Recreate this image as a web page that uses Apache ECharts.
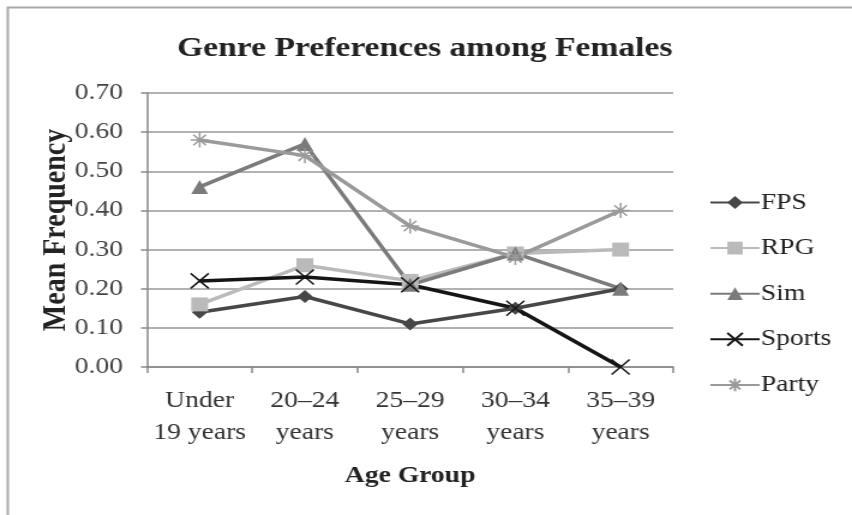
<!DOCTYPE html>
<html>
<head>
<meta charset="utf-8">
<script src="https://cdn.jsdelivr.net/npm/echarts@6/dist/echarts.min.js"></script>
<style>
  html, body { margin: 0; padding: 0; background: #fff; overflow: hidden; }
  /* the chart is laid out at 710px and widened to fill the 852px frame */
  #chart { width: 710px; height: 515px; transform: scaleX(1.2); transform-origin: 0 0; }
</style>
</head>
<body>
<div id="chart"></div>
<script>
// Age groups on the category axis
var ageGroups = ['Under\n19 years', '20\u201324\nyears', '25\u201329\nyears', '30\u201334\nyears', '35\u201339\nyears'];

// Mean frequency per genre
var fps    = [0.14, 0.18, 0.11, 0.15, 0.20];
var rpg    = [0.16, 0.26, 0.22, 0.29, 0.30];
var sim    = [0.46, 0.57, 0.21, 0.29, 0.20];
var sports = [0.22, 0.23, 0.21, 0.15, 0.00];
var party  = [0.58, 0.54, 0.36, 0.28, 0.40];

var SERIF = '"Liberation Serif", "DejaVu Serif", serif';

var crossPath = 'path://M0,0L10,10M10,0L0,10';
var starPath = 'path://M0,5L10,5M5,0L5,10M1.5,1.5L8.5,8.5M8.5,1.5L1.5,8.5';

function solidSeries(name, data, color, symbol, size) {
  return {
    name: name, type: 'line', data: data,
    symbol: symbol, symbolSize: size,
    lineStyle: { color: color, width: 3.5 },
    itemStyle: { color: color },
    z: 2
  };
}
function strokeSeries(name, data, color, symbol, size) {
  return {
    name: name, type: 'line', data: data,
    symbol: symbol, symbolSize: size,
    lineStyle: { color: color, width: 3.5 },
    itemStyle: { color: 'none', borderColor: color, borderWidth: 1.5 },
    z: 2
  };
}

var chart = echarts.init(document.getElementById('chart'));
chart.setOption({
  animation: false,
  backgroundColor: '#fff',
  graphic: [{
    type: 'rect', left: 4, top: 5,
    shape: { width: 900, height: 600 },
    style: { fill: 'none', stroke: '#a8a8a8', lineWidth: 2 },
    silent: true
  }],
  title: {
    text: 'Genre Preferences among Females',
    left: 349, top: 30, textAlign: 'center',
    textStyle: { fontFamily: SERIF, fontSize: 28, fontWeight: 'bold', color: '#222' }
  },
  grid: { left: 122.5, right: 149, top: 93, bottom: 148 },
  legend: {
    orient: 'vertical', left: 586, top: 186,
    itemWidth: 41, itemHeight: 16, itemGap: 22.6,
    textStyle: { fontFamily: SERIF, fontSize: 23, lineHeight: 16, color: '#222', padding: [0, 0, 0, -4] },
    data: ['FPS', 'RPG', 'Sim', 'Sports', 'Party']
  },
  xAxis: {
    type: 'category', data: ageGroups, boundaryGap: true,
    name: 'Age Group', nameLocation: 'middle', nameGap: 98,
    nameMoveOverlap: false,
    nameTextStyle: { fontFamily: SERIF, fontSize: 23, fontWeight: 'bold', color: '#222' },
    axisLine: { lineStyle: { color: '#888', width: 1.5 } },
    axisTick: { show: true, alignWithLabel: false, length: 6, lineStyle: { color: '#888', width: 1.5 } },
    axisLabel: { fontFamily: SERIF, fontSize: 23, color: '#333', lineHeight: 32, margin: 18, interval: 0 }
  },
  yAxis: {
    type: 'value', min: 0, max: 0.7, interval: 0.1,
    name: 'Mean Frequency', nameLocation: 'middle', nameGap: 62,
    nameMoveOverlap: false,
    nameTextStyle: { fontFamily: SERIF, fontSize: 28, fontWeight: 'bold', color: '#222' },
    axisLine: { show: true, lineStyle: { color: '#888', width: 1.5 } },
    axisTick: { show: true, length: 5, lineStyle: { color: '#888', width: 1.5 } },
    axisLabel: { fontFamily: SERIF, fontSize: 23, color: '#444', margin: 20,
      formatter: function (v) { return v.toFixed(2); } },
    splitLine: { lineStyle: { color: '#999', width: 1.5 } }
  },
  series: [
    solidSeries('FPS', fps, '#474747', 'diamond', 13),
    solidSeries('RPG', rpg, '#bababa', 'rect', 14),
    solidSeries('Sim', sim, '#7b7b7b', 'triangle', 14),
    strokeSeries('Sports', sports, '#151515', crossPath, 15),
    strokeSeries('Party', party, '#9a9a9a', starPath, 15)
  ]
});
</script>
</body>
</html>
